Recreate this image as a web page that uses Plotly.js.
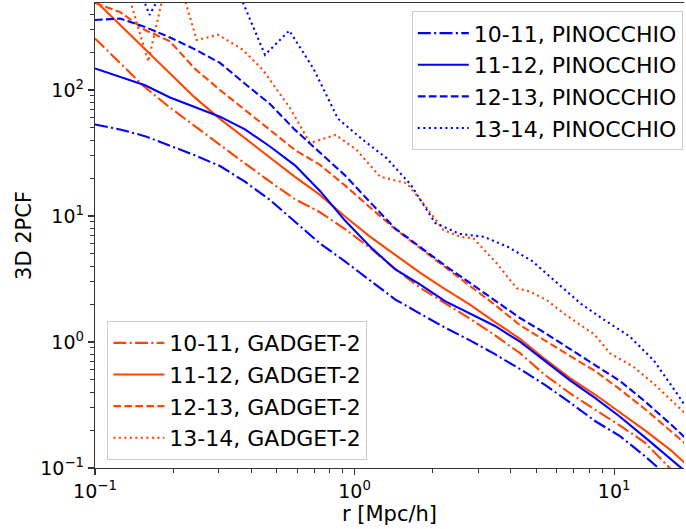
<!DOCTYPE html>
<html>
<head>
<meta charset="utf-8">
<script src="https://cdn.plot.ly/plotly-3.0.1.min.js"></script>
<style>html,body{margin:0;padding:0;background:#fff;}#chart{width:686px;height:529px;}</style>
</head>
<body>
<div id="chart"></div>
<script>
// shared separation grid for the smooth curves [Mpc/h]
const r = [0.1, 0.1248, 0.1558, 0.1945, 0.2427, 0.3030, 0.3782, 0.4721, 0.5893, 0.7357, 0.9183, 1.146, 1.431, 1.786, 2.230, 2.783, 3.474, 4.337, 5.413, 6.757, 8.435, 10.53, 13.14, 16.40, 20.48];

// PINOCCHIO
const pin_10_11 = [53.2, 48.6, 43.0, 36.1, 30.3, 24.9, 18.7, 13.4, 8.93, 6.05, 4.36, 3.08, 2.18, 1.68, 1.30, 1.03, 0.80, 0.61, 0.456, 0.331, 0.236, 0.179, 0.124, 0.083, 0.056];
const pin_11_12 = [148, 127, 109, 87.1, 73.3, 61.4, 48.6, 35.6, 25.2, 15.8, 9.19, 5.73, 3.78, 2.86, 2.11, 1.69, 1.34, 1.005, 0.710, 0.496, 0.360, 0.255, 0.175, 0.119, 0.081];
const pin_12_13 = [359, 369, 316, 261, 210, 164, 112, 77.4, 48.2, 31.8, 21.0, 12.9, 7.98, 5.68, 4.04, 2.94, 2.13, 1.55, 1.18, 0.887, 0.656, 0.490, 0.338, 0.225, 0.147];
const r_pin_13_14 = [0.1018, 0.1259, 0.1622, 0.1979, 0.2449, 0.2977, 0.3650, 0.4517, 0.5604, 0.6952, 0.8623, 1.070, 1.327, 1.646, 2.042, 2.533, 3.143, 3.898, 4.836, 5.999, 7.442, 9.232, 11.45, 14.21, 17.62, 21.87];
const pin_13_14 = [1200, 1500, 394, 826, 800, 700, 537, 190, 296, 147, 59.2, 40.6, 28.8, 17.7, 8.81, 7.21, 6.84, 5.68, 4.38, 2.99, 2.01, 1.48, 1.11, 0.713, 0.379, 0.193];

// GADGET-2
const gad_10_11 = [256, 164, 105, 72.4, 51.3, 36.4, 26.1, 18.7, 13.6, 10.7, 7.88, 5.57, 3.82, 2.70, 2.04, 1.53, 1.13, 0.815, 0.547, 0.392, 0.291, 0.217, 0.159, 0.0995, 0.067];
const gad_11_12 = [513, 328, 209, 135, 86.9, 58.9, 41.2, 29.0, 20.4, 14.7, 9.91, 6.85, 4.90, 3.55, 2.63, 1.98, 1.44, 1.06, 0.730, 0.516, 0.383, 0.278, 0.199, 0.140, 0.093];
const gad_12_13 = [490, 416, 299, 243, 147, 100, 69.4, 47.8, 33.4, 25.4, 17.5, 11.7, 7.89, 5.57, 3.94, 2.81, 1.97, 1.36, 1.02, 0.775, 0.589, 0.420, 0.294, 0.200, 0.134];
const r_gad_13_14 = [0.1018, 0.1293, 0.1604, 0.1979, 0.2465, 0.2985, 0.3716, 0.4437, 0.5639, 0.6734, 0.8456, 1.019, 1.253, 1.588, 1.839, 2.196, 2.547, 2.867, 3.527, 4.211, 4.740, 5.495, 6.352, 8.435, 9.634, 11.85, 14.15, 18.46, 21.41];
const gad_13_14 = [1076, 746, 168, 1156, 249, 274, 208, 144, 71.9, 37.9, 44.0, 33.4, 20.5, 18.2, 12.6, 7.74, 6.85, 6.65, 4.21, 2.67, 2.51, 2.15, 1.70, 1.137, 0.813, 0.637, 0.470, 0.280, 0.215];

const pinLabels = ['10-11, PINOCCHIO', '11-12, PINOCCHIO', '12-13, PINOCCHIO', '13-14, PINOCCHIO'];
const gadLabels = ['10-11, GADGET-2', '11-12, GADGET-2', '12-13, GADGET-2', '13-14, GADGET-2'];
const xTickVals = [0.1, 1, 10];
const xTickText = ['10<sup>\u22121</sup>', '10<sup>0</sup>', '10<sup>1</sup>'];
const yTickVals = [0.1, 1, 10, 100];
const yTickText = ['10<sup>\u22121</sup>', '10<sup>0</sup>', '10<sup>1</sup>', '10<sup>2</sup>'];

const BLUE = '#0000ff', ORANGE = '#ff4500';
const LW = 2.1;
const DASHES = ['13px,3.3px,2.1px,3.3px', 'solid', '7.7px,3.3px', '2.1px,3.4px'];

const pinX = [r, r, r, r_pin_13_14];
const pinY = [pin_10_11, pin_11_12, pin_12_13, pin_13_14];
const gadX = [r, r, r, r_gad_13_14];
const gadY = [gad_10_11, gad_11_12, gad_12_13, gad_13_14];

const traces = [];
for (let i = 0; i < 4; i++) {
  traces.push({x: gadX[i], y: gadY[i], type: 'scatter', mode: 'lines', name: gadLabels[i],
    legend: 'legend2', line: {color: ORANGE, width: LW, dash: DASHES[i]}});
}
for (let i = 0; i < 4; i++) {
  traces.push({x: pinX[i], y: pinY[i], type: 'scatter', mode: 'lines', name: pinLabels[i],
    legend: 'legend', line: {color: BLUE, width: LW, dash: DASHES[i]}});
}

function minorVals(lo, hi) {
  const v = [];
  for (let e = lo; e <= hi; e++) for (let d = 2; d <= 9; d++) v.push(d * Math.pow(10, e));
  return v;
}

const FONT = 'DejaVu Sans, Verdana, sans-serif';
const axisCommon = {
  type: 'log', showgrid: false, zeroline: false,
  showline: true, linecolor: '#333', linewidth: 1.2,
  ticks: 'outside', ticklen: 6, tickwidth: 1.2, tickcolor: '#333',
  tickmode: 'array', tickfont: {family: FONT, size: 19, color: '#000'}
};

const layout = {
  width: 686, height: 529,
  margin: {l: 95, r: 2, t: 3, b: 61},
  paper_bgcolor: '#fff', plot_bgcolor: '#fff',
  font: {family: FONT, color: '#000'},
  xaxis: Object.assign({}, axisCommon, {
    range: [-1, 1.2689], mirror: true,
    tickvals: xTickVals, ticktext: xTickText,
    minor: {tickmode: 'array', tickvals: minorVals(-1, 1), ticks: 'outside', ticklen: 3.5, tickwidth: 1, tickcolor: '#333'},
    title: {text: 'r [Mpc/h]', font: {family: FONT, size: 21, color: '#000'}, standoff: 0}
  }),
  yaxis: Object.assign({}, axisCommon, {
    range: [-1, 2.690],
    tickvals: yTickVals, ticktext: yTickText,
    minor: {tickmode: 'array', tickvals: minorVals(-1, 2), ticks: 'outside', ticklen: 3.5, tickwidth: 1, tickcolor: '#333'},
    title: {text: '3D 2PCF', font: {family: FONT, size: 21, color: '#000'}, standoff: 2}
  }),
  legend: {
    x: 0.998, xanchor: 'right', y: 0.982, yanchor: 'top',
    bgcolor: 'rgba(255,255,255,0.8)', bordercolor: '#cccccc', borderwidth: 1,
    font: {family: FONT, size: 22, color: '#000'}, itemwidth: 51
  },
  legend2: {
    x: 0.021, xanchor: 'left', y: 0.017, yanchor: 'bottom',
    bgcolor: 'rgba(255,255,255,0.8)', bordercolor: '#cccccc', borderwidth: 1,
    font: {family: FONT, size: 22, color: '#000'}, itemwidth: 51
  },
  showlegend: true
};

Plotly.newPlot('chart', traces, layout, {displayModeBar: false, staticPlot: true});
</script>
</body>
</html>
